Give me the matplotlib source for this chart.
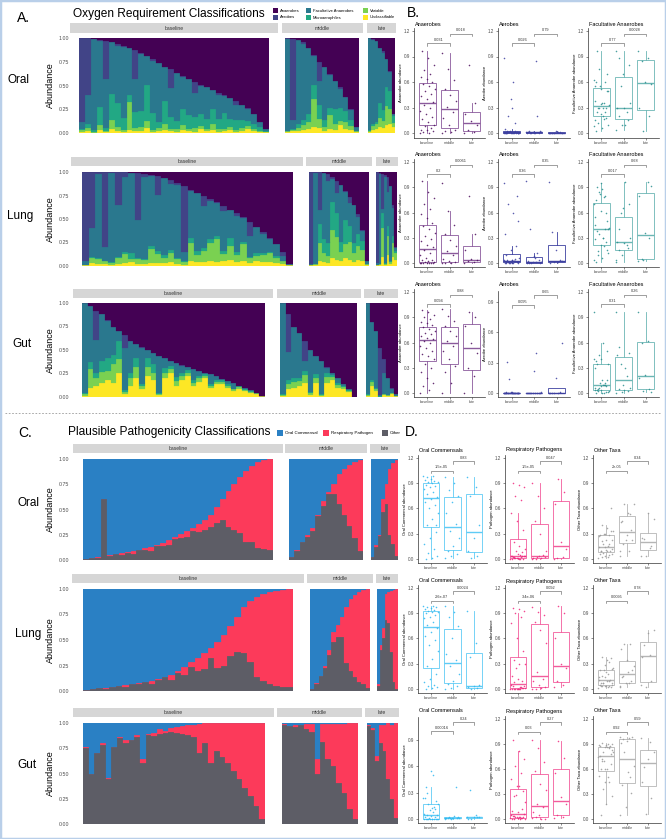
import numpy as np
import matplotlib
matplotlib.use("Agg")
import matplotlib.pyplot as plt
from matplotlib.patches import Rectangle
from matplotlib.lines import Line2D

plt.rcParams['font.family'] = ['Liberation Sans', 'DejaVu Sans']

# ---------------- data (percent per sample, bars sorted as in the figure) ----------------
stages = ["baseline", "middle", "late"]
sites = ["Oral", "Lung", "Gut"]

oxy_classes = ["Anaerobes", "Aerobes", "Facultative Anaerobes", "Microaerophiles", "Variable", "Unclassifiable"]
oxy_colors = ["#440154", "#414487", "#2A788E", "#22A884", "#7AD151", "#FDE725"]
path_classes = ["Oral Commensal", "Respiratory Pathogen", "Other"]
path_colors = ["#2a80c4", "#fc3a5a", "#5d5d66"]

# Oxygen requirement: anaerobes, aerobes, facultative, variable, unclassifiable (microaerophiles = rest)
ox_oral_base_anaer = [0,0,1,2,3,4,6,8,10,13,16,19,22,26,30,33,37,40,43,46,49,52,55,58,60,63,66,70,74,80,88,96]
ox_oral_base_aer = [88,60,0,1,40,0,2,1,0,30,1,0,2,0,1,20,0,1,0,12,1,0,0,2,1,0,5,0,1,0,0,0]
ox_oral_base_fac = [8,30,96,70,52,55,60,75,50,35,60,30,55,62,35,30,50,34,38,25,30,33,20,25,18,22,15,16,12,10,6,2]
ox_oral_base_var = [2,3,1,5,1,10,4,2,30,3,4,8,2,3,6,2,3,5,2,4,3,2,6,3,2,3,2,3,3,2,1,0]
ox_oral_base_unc = [1,2,0,3,1,4,2,1,3,2,2,5,1,2,3,2,1,3,2,1,4,2,3,1,2,3,1,2,4,2,1,1]

ox_oral_mid_anaer = [0,1,2,4,10,18,25,31,38,45,52,62,75,94]
ox_oral_mid_aer = [1,85,0,2,0,1,20,0,1,0,2,0,1,0]
ox_oral_mid_fac = [97,10,88,80,70,30,25,55,35,30,20,15,10,4]
ox_oral_mid_var = [1,1,3,5,8,30,10,4,15,6,5,8,4,1]
ox_oral_mid_unc = [1,2,2,3,4,6,5,2,4,3,8,4,3,1]

ox_oral_late_anaer = [0,1,3,10,14,22,35,80]
ox_oral_late_aer = [0,1,0,0,2,0,1,0]
ox_oral_late_fac = [97,88,85,58,60,30,20,2]
ox_oral_late_var = [1,4,5,10,8,20,15,5]
ox_oral_late_unc = [1,3,4,6,5,8,10,6]

ox_lung_base_anaer = [0,0,0,0,0,0,0,1,1,2,3,4,6,9,12,15,19,22,26,29,32,36,40,44,48,53,58,64,70,77,85,98]
ox_lung_base_aer = [95,60,2,80,1,35,5,0,50,3,1,20,0,4,2,70,1,0,10,2,1,6,0,3,1,15,0,2,1,0,4,0]
ox_lung_base_fac = [4,30,90,15,95,55,80,85,40,88,75,60,82,70,78,10,50,62,45,40,35,42,30,38,25,22,28,20,14,12,6,1]
ox_lung_base_var = [0,6,5,3,2,6,10,3,5,4,15,10,6,10,5,3,20,8,12,20,25,8,15,8,18,5,6,8,10,6,3,0]
ox_lung_base_unc = [1,3,2,2,1,2,3,4,2,2,3,3,3,4,2,1,5,4,4,5,4,5,6,4,5,3,5,4,4,3,2,1]

ox_lung_mid_anaer = [0,0,0,1,2,5,10,14,20,27,35,45,62,95]
ox_lung_mid_aer = [98,1,40,0,8,2,12,0,1,6,0,3,1,0]
ox_lung_mid_fac = [1,97,15,70,65,25,22,60,30,24,40,18,10,3]
ox_lung_mid_var = [0,1,20,10,8,30,25,10,15,20,10,15,12,1]
ox_lung_mid_unc = [1,1,5,4,3,8,6,5,8,6,4,6,5,1]

ox_lung_late_anaer = [0,1,2,3,5,15,35,80]
ox_lung_late_aer = [97,1,37,2,16,0,3,1]
ox_lung_late_fac = [2,96,5,92,36,80,30,3]
ox_lung_late_var = [0,1,30,1,20,2,15,8]
ox_lung_late_unc = [1,1,10,1,12,2,10,6]

ox_gut_base_anaer = [0,3,8,12,18,25,30,34,40,44,47,50,53,56,59,62,64,66,68,70,72,74,76,78,81,83,85,88,90,93,96,99]
ox_gut_base_aer = [0,0,31,0,1,0,0,14,0,0,1,0,0,0,0,0,0,1,0,0,0,0,0,0,0,0,0,0,0,0,0,0]
ox_gut_base_fac = [96,60,35,50,40,30,10,45,35,15,38,8,12,40,10,5,15,8,3,12,6,2,10,4,1,3,6,0,2,1,0,0]
ox_gut_base_var = [2,20,8,12,10,20,15,2,8,12,4,10,8,1,6,5,5,4,4,3,4,2,2,2,2,2,2,2,1,1,1,0]
ox_gut_base_unc = [1,10,12,15,18,15,25,3,12,20,8,22,18,2,20,25,12,18,22,12,16,20,10,14,14,10,6,9,6,4,3,1]

ox_gut_mid_anaer = [0,12,25,32,40,50,56,62,68,74,80,86,92,100]
ox_gut_mid_aer = [0,40,0,0,22,0,0,0,1,0,0,0,0,0]
ox_gut_mid_fac = [97,30,55,48,10,45,20,35,6,3,5,2,1,0]
ox_gut_mid_var = [1,6,6,5,8,2,5,1,6,3,3,2,1,0]
ox_gut_mid_unc = [1,8,10,12,15,2,15,1,15,18,10,9,5,0]

ox_gut_late_anaer = [0,20,30,48,60,80,90,97]
ox_gut_late_aer = [0,0,0,50,15,0,1,0]
ox_gut_late_fac = [97,62,60,1,22,18,5,2]
ox_gut_late_var = [1,4,3,0,1,1,1,0]
ox_gut_late_unc = [1,12,6,0,2,1,3,1]

# Pathogenicity: respiratory pathogen (red) and other (gray); oral commensal = rest
pg_oral_base_red = [0,0,1,0,1,0,2,1,3,0,2,4,1,3,5,2,4,6,3,8,10,12,15,20,35,45,55,70,75,85,88,90]
pg_oral_base_gray = [1,2,2,60,4,6,5,7,6,10,10,9,14,14,15,21,22,23,29,28,30,33,37,40,33,30,27,18,18,12,11,10]
pg_oral_mid_red = [0,1,0,2,3,1,5,2,10,30,45,60,75,90]
pg_oral_mid_gray = [3,9,18,23,29,44,53,65,65,55,45,34,22,9]
pg_oral_late_red = [0,2,1,12,20,65,80,95]
pg_oral_late_gray = [3,13,24,48,55,25,16,4]

pg_lung_base_red = [0,0,0,1,0,0,2,0,1,0,3,1,0,5,2,8,4,12,15,10,25,30,30,35,45,60,78,85,90,93,95,96]
pg_lung_base_gray = [1,2,3,2,4,5,4,7,7,9,7,11,14,11,18,16,24,20,22,32,23,25,34,38,37,28,14,10,7,5,4,4]
pg_lung_mid_red = [0,1,0,2,5,10,12,20,55,70,80,88,92,97]
pg_lung_mid_gray = [2,7,15,23,35,48,53,53,27,20,14,9,7,3]
pg_lung_late_red = [2,5,10,25,30,60,90,98]
pg_lung_late_gray = [5,40,52,70,67,38,9,2]

pg_gut_base_red = [1,0,0,2,1,0,1,3,0,2,4,1,3,5,2,4,6,8,10,12,29,20,40,28,34,40,48,55,64,72,82,95]
pg_gut_base_gray = [75,50,70,78,45,76,85,80,83,86,60,88,87,89,90,91,90,89,88,86,70,80,60,72,66,60,52,45,36,28,18,5]
pg_gut_mid_red = [1,0,2,0,5,8,14,18,35,42,58,68,85,95]
pg_gut_mid_gray = [98,97,96,98,94,91,50,81,64,57,41,31,15,5]
pg_gut_late_red = [1,2,5,18,26,55,73,94]
pg_gut_late_gray = [97,93,62,80,72,45,25,6]

# p-values of the pairwise comparisons (baseline-middle, middle-late)
oxy_titles = ["Anaerobes", "Aerobes", "Facultative Anaerobes"]
oxy_ylabels = ["Anaerobe abundance", "Aerobe abundance", "Facultative Anaerobe abundance"]
oxy_pvals = [[("0.031", "0.018"), ("0.026", "0.79"), ("0.77", "0.0028")],
             [("0.2", "0.0061"), ("0.36", "0.35"), ("0.017", "0.68")],
             [("0.094", "0.88"), ("0.095", "0.65"), ("0.31", "0.26")]]
path_titles = ["Oral Commensals", "Respiratory Pathogens", "Other Taxa"]
path_ylabels = ["Oral Commensal abundance", "Pathogen abundance", "Other Taxa abundance"]
path_pvals = [[("1.5e-05", "0.83"), ("1.5e-05", "0.047"), ("2e-05", "0.34")],
              [("2.6e-07", "0.0024"), ("3.4e-06", "0.092"), ("0.0095", "0.78")],
              [("0.00016", "0.24"), ("0.03", "0.27"), ("0.92", "0.59")]]

# ---------------- assemble ----------------
skeys = ["oral", "lung", "gut"]
tkeys = ["base", "mid", "late"]
G = globals()
OX = {}
PG = {}
for s in skeys:
    for t in tkeys:
        d = {k: np.array(G[f"ox_{s}_{t}_{k}"], float) / 100 for k in ["anaer", "aer", "fac", "var", "unc"]}
        d["micro"] = np.clip(1 - (d["anaer"] + d["aer"] + d["fac"] + d["var"] + d["unc"]), 0, None)
        OX[(s, t)] = d
        red = np.array(G[f"pg_{s}_{t}_red"], float) / 100
        gray = np.array(G[f"pg_{s}_{t}_gray"], float) / 100
        PG[(s, t)] = {"red": red, "gray": gray, "blue": np.clip(1 - red - gray, 0, None)}

W, H = 666, 839
fig = plt.figure(figsize=(W / 100, H / 100), dpi=100)
fig.patch.set_facecolor("white")


def fx(x):
    return x / W


def fy(y):
    return 1 - y / H


def px_axes(x0, y0, x1, y1):
    return fig.add_axes([x0 / W, 1 - y1 / H, (x1 - x0) / W, (y1 - y0) / H])


# ---------------- stacked bar panels ----------------
ox_rows = [((38, 133), (23, 33), [(70, 278, 79, 269), (282, 363, 285, 359), (367, 396, 368, 395)]),
           ((172, 266), (157, 166), [(71, 303, 82, 293), (306, 372, 309, 369), (376, 398, 376, 397)]),
           ((303, 397), (289, 298), [(73, 273, 82, 265), (277, 361, 280, 357), (364, 398, 366, 398)])]
pg_rows = [((459, 560), (444, 453), [(73, 283, 83, 273), (285, 367, 289, 363), (370, 400, 371, 398)]),
           ((589, 691), (574, 583), [(72, 304, 83, 293), (307, 373, 310, 370), (376, 398, 377, 398)]),
           ((723, 824), (708, 717), [(73, 274, 83, 265), (277, 362, 282, 358), (365, 399, 367, 398)])]


def bar_row(geom, layer_fn, colors):
    (by0, by1), (sy0, sy1), facets = geom
    for j, (t, st, (sx0, sx1, bx0, bx1)) in enumerate(zip(tkeys, stages, facets)):
        fig.add_artist(Rectangle((fx(sx0), fy(sy1)), (sx1 - sx0) / W, (sy1 - sy0) / H,
                                 transform=fig.transFigure, facecolor="#d6d6d6", edgecolor="none"))
        fig.text(fx((sx0 + sx1) / 2), fy((sy0 + sy1) / 2), st, ha="center", va="center",
                 fontsize=3.6, color="#333333")
        ax = px_axes(bx0, by0, bx1, by1)
        layers = layer_fn(t)
        n = len(layers[0])
        x = np.arange(n)
        bottom = np.zeros(n)
        for vals, c in zip(layers, colors):
            ax.bar(x, vals, width=1.0, bottom=bottom, color=c, edgecolor=c, linewidth=0.15)
            bottom = bottom + vals
        ax.set_xlim(-0.5, n - 0.5)
        ax.set_ylim(0, 1)
        for sp in ax.spines.values():
            sp.set_visible(False)
        ax.set_xticks([])
        if j == 0:
            ax.set_yticks([0, 0.25, 0.5, 0.75, 1.0])
            ax.set_yticklabels(["0.00", "0.25", "0.50", "0.75", "1.00"], fontsize=3.8, color="#4d4d4d")
            ax.tick_params(axis="y", length=0, pad=(bx0 - 69) * 0.72)
        else:
            ax.set_yticks([])
    fig.text(fx(50), fy((by0 + by1) / 2), "Abundance", rotation=90, ha="center", va="center", fontsize=6.5)


for s, geom in zip(skeys, ox_rows):
    bar_row(geom, lambda t, s=s: [OX[(s, t)][k] for k in ["unc", "var", "micro", "fac", "aer", "anaer"]],
            oxy_colors[::-1])
for s, geom in zip(skeys, pg_rows):
    bar_row(geom, lambda t, s=s: [PG[(s, t)][k] for k in ["gray", "red", "blue"]],
            [path_colors[2], path_colors[1], path_colors[0]])

# row labels
for lab, (x, y) in zip(sites, [(19, 80), (20, 216), (22, 344)]):
    fig.text(fx(x), fy(y), lab, ha="center", va="center", fontsize=8.5)
for lab, (x, y) in zip(sites, [(28, 503), (28, 634), (27, 765)]):
    fig.text(fx(x), fy(y), lab, ha="center", va="center", fontsize=8.5)

# titles, panel letters
fig.text(fx(73), fy(14), "Oxygen Requirement Classifications", ha="left", va="center", fontsize=8.6)
fig.text(fx(68), fy(432), "Plausible Pathogenicity Classifications", ha="left", va="center", fontsize=8.6)
for lab, (x, y) in zip(["A.", "B.", "C.", "D."], [(17, 18), (407, 13), (18, 433), (405, 432)]):
    fig.text(fx(x), fy(y), lab, ha="left", va="center", fontsize=10)

# legends
ox_leg_pos = [(273, 8), (273, 15), (306, 8), (306, 15), (363, 8), (363, 15)]
for name, c, (x, y) in zip(oxy_classes, oxy_colors, ox_leg_pos):
    fig.add_artist(Rectangle((fx(x), fy(y + 5)), 5 / W, 5 / H, transform=fig.transFigure,
                             facecolor=c, edgecolor="none"))
    fig.text(fx(x + 7), fy(y + 2.5), name, ha="left", va="center", fontsize=3.0)
pg_leg_pos = [(277, 430), (323, 430), (382, 430)]
for name, c, (x, y) in zip(path_classes, path_colors, pg_leg_pos):
    fig.add_artist(Rectangle((fx(x), fy(y + 6)), 6 / W, 6 / H, transform=fig.transFigure,
                             facecolor=c, edgecolor="none"))
    fig.text(fx(x + 8), fy(y + 3), name, ha="left", va="center", fontsize=3.2)

# ---------------- box / jitter panels ----------------
B_rows = [(133, 85, 138, 28, 24), (263, 84, 267, 159, 154), (393, 84, 397, 289, 284)]
D_rows = [(559, 84.2, 563, 455, 450), (689, 84.2, 693, 585, 581), (819, 83.3, 823, 716, 711)]
B_cols = [(414, 485), (498, 570), (588, 659)]
D_cols = [(418, 487), (505, 574), (593, 661)]
B_over = {(2, 1): (393, 101, 397, 291)}
D_over = {(2, 0): (819, 88, 823, 717)}
B_brk = {(2, 1): (0.87, 0.97)}
D_brk = {(2, 0): (1.0, 1.10)}

oxy_pt = ["#4b0d5c", "#3d40a0", "#2a8f8f"]
oxy_box = ["#8a5a9c", "#3d40a0", "#6bb6b4"]
path_pt = ["#2eb8f0", "#f0287e", "#9a9a9a"]
path_box = ["#5fcbf5", "#f25c9c", "#b5b5b5"]


def box_panel(rowg, colg, groups, ptc, boxc, title, ylabel, pv, brk):
    zero, k, bot, top = rowg[:4]
    x0, x1 = colg
    ax = px_axes(x0, top, x1, bot)
    lo, hi = -(bot - zero) / k, (zero - top) / k
    ax.boxplot(groups, positions=[1, 2, 3], widths=0.75, whis=1.5, showfliers=False,
               patch_artist=True,
               boxprops=dict(facecolor="none", edgecolor=boxc, linewidth=0.6),
               medianprops=dict(color=boxc, linewidth=1.0),
               whiskerprops=dict(color=boxc, linewidth=0.6),
               capprops=dict(linewidth=0))
    for i, g in enumerate(groups):
        n = len(g)
        off = ((np.arange(n) * 0.6180339887) % 1 - 0.5) * 0.7
        ax.scatter(i + 1 + off, g, s=1.3, color=ptc, alpha=0.85, linewidths=0, zorder=3)
    ax.set_xlim(0.4, 3.6)
    ax.set_ylim(lo, hi)
    yt = [v for v in [0, 0.3, 0.6, 0.9, 1.2] if v <= hi]
    ax.set_yticks(yt)
    ax.set_yticklabels([f"{v:.1f}" for v in yt], fontsize=3.3, color="#4d4d4d")
    ax.set_xticks([1, 2, 3])
    ax.set_xticklabels(stages, fontsize=2.7, color="#4d4d4d")
    ax.tick_params(length=1.5, width=0.4, pad=1, color="#333333")
    for sp in ["top", "right"]:
        ax.spines[sp].set_visible(False)
    for sp in ["left", "bottom"]:
        ax.spines[sp].set_linewidth(0.5)
        ax.spines[sp].set_color("#333333")
    ax.set_ylabel(ylabel, fontsize=3.0, labelpad=1)
    ax.patch.set_alpha(0)
    span = hi - lo
    for (a, b), h, lab in zip([(1, 2), (2, 3)], brk, pv):
        tip = 0.025 * span
        ax.plot([a, a, b, b], [h - tip, h, h, h - tip], color="#555555", lw=0.4, clip_on=False)
        ax.text((a + b) / 2, h + 0.012 * span, lab, ha="center", va="bottom", fontsize=2.8, color="#333333")
    fig.text(fx(x0 + 1), fy(rowg[4]), title, ha="left", va="center", fontsize=4.0)


for r, s in enumerate(skeys):
    for c, key in enumerate(["anaer", "aer", "fac"]):
        groups = [OX[(s, t)][key] for t in tkeys]
        rowg = B_over.get((r, c), B_rows[r][:4]) + (B_rows[r][4],)
        box_panel(rowg, B_cols[c], groups, oxy_pt[c], oxy_box[c], oxy_titles[c], oxy_ylabels[c],
                  oxy_pvals[r][c], B_brk.get((r, c), (1.06, 1.17)))
    for c, key in enumerate(["blue", "red", "gray"]):
        groups = [PG[(s, t)][key] for t in tkeys]
        rowg = D_over.get((r, c), D_rows[r][:4]) + (D_rows[r][4],)
        box_panel(rowg, D_cols[c], groups, path_pt[c], path_box[c], path_titles[c], path_ylabels[c],
                  path_pvals[r][c], D_brk.get((r, c), (1.05, 1.16)))

# separator and border
fig.add_artist(Line2D([fx(5), fx(661)], [fy(413), fy(413)], transform=fig.transFigure,
                      linestyle=(0, (2, 2)), color="#9a9a9a", lw=0.6))
fig.add_artist(Rectangle((0, 0), 1, 1, transform=fig.transFigure, fill=False,
                         edgecolor="#b9cfe9", lw=2.5))

fig.savefig("out.png", dpi=100, facecolor="white")
